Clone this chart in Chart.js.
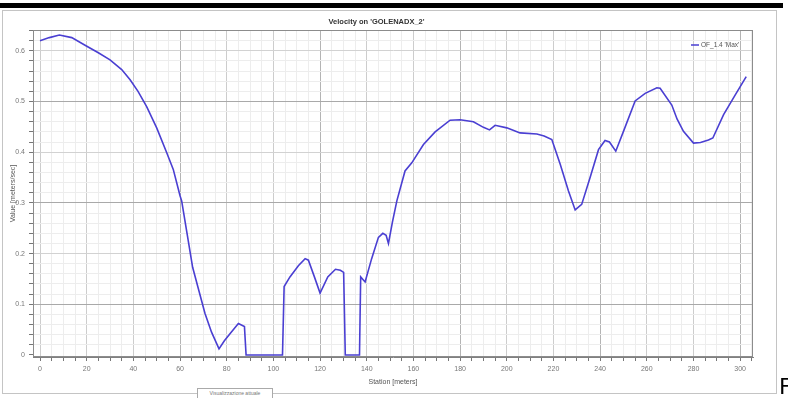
<!DOCTYPE html>
<html>
<head>
<meta charset="utf-8">
<script src="https://cdn.jsdelivr.net/npm/chart.js@4.4.1/dist/chart.umd.min.js"></script>
<style>
  body { margin: 0; background: #fff; width: 788px; height: 398px; overflow: hidden; position: relative; font-family: "Liberation Sans", Arial, sans-serif; }
  #bar { position: absolute; left: 0; top: 3px; width: 783px; height: 5px; background: #000; }
  #panel { position: absolute; left: 2px; top: 10px; width: 773px; height: 382px; border: 1px solid #c4c4c4; background: #fff; }
  #wrap { position: absolute; left: 0; top: 0; width: 788px; height: 398px; }
  #tab { position: absolute; left: 197px; top: 388px; width: 74px; height: 9px; border: 1px solid #aaa; background: #fff;
         font-size: 5px; line-height: 9px; color: #777; text-align: center; }
  #f { position: absolute; left: 779px; top: 374px; font-family: "DejaVu Sans", sans-serif; font-size: 22px; color: #000; line-height: 26px; }
</style>
</head>
<body>
<div id="bar"></div>
<div id="panel"></div>
<div id="wrap"><canvas id="chart" width="788" height="398"></canvas></div>
<div id="tab">Visualizzazione attuale</div>
<div id="f">F</div>
<script>
// station along the section (m)
const stations = [
  0, 4, 8.3, 13.6, 19.3, 25, 30, 35, 38.6, 42, 45.7, 50, 54.3, 57.1, 60, 60.7, 63, 65.4, 68, 70.7,
  73.5, 76.7, 79, 81.4, 85, 87.6, 88.3, 103.9, 104.6, 107.1, 110.7, 113.6, 115, 117.5, 120, 123.3,
  126.6, 128.7, 130.1, 130.8, 136.9, 137.4, 139.3, 142.1, 145, 146.9, 148.3, 149.3, 151, 152.9,
  156.4, 159.3, 164.3, 169.3, 175.7, 180, 185.7, 190, 192.6, 195, 200, 205.7, 212.9, 216, 219.3,
  222.9, 226.4, 229.3, 232.1, 235.7, 239.3, 242.1, 244, 246.7, 250, 255, 259.3, 264.3, 265.7,
  270.7, 273, 275.7, 280, 283, 286.4, 288.3, 292.9, 297.9, 302.6
];
// max velocity (m/s)
const velocity = [
  0.62, 0.626, 0.631, 0.626, 0.611, 0.596, 0.582, 0.563, 0.543, 0.52, 0.49, 0.448, 0.399, 0.366, 0.314, 0.304, 0.24, 0.173, 0.128, 0.082,
  0.045, 0.012, 0.028, 0.042, 0.062, 0.056, 0, 0, 0.135, 0.154, 0.176, 0.19, 0.187, 0.155, 0.122, 0.154,
  0.169, 0.167, 0.163, 0, 0, 0.154, 0.144, 0.19, 0.232, 0.24, 0.236, 0.22, 0.262, 0.304,
  0.363, 0.379, 0.415, 0.44, 0.463, 0.464, 0.46, 0.449, 0.444, 0.453, 0.448, 0.438, 0.436, 0.432, 0.425,
  0.376, 0.324, 0.286, 0.297, 0.35, 0.405, 0.423, 0.42, 0.402, 0.441, 0.501, 0.516, 0.527, 0.526,
  0.493, 0.465, 0.441, 0.418, 0.419, 0.424, 0.428, 0.474, 0.513, 0.549
];
const xLabels = [0, 20, 40, 60, 80, 100, 120, 140, 160, 180, 200, 220, 240, 260, 280, 300];
const yLabels = [0, 0.1, 0.2, 0.3, 0.4, 0.5, 0.6];
const xMinorStep = 5;
const yMinorStep = 0.02;
const seriesName = "OF_1.4 'Max'";
const lineColor = '#4a3fd2';

const isMult = (v, m) => Math.abs(v / m - Math.round(v / m)) < 1e-6;
const isLabel = (list, v) => list.some(l => Math.abs(l - v) < 1e-6);
const minorTicks = (step, hi) => {
  const out = [];
  for (let i = 0; i * step <= hi + 1e-9; i++) out.push({ value: +(i * step).toFixed(4) });
  return out;
};

const extras = {
  id: 'extras',
  afterDraw(chart) {
    const { ctx, chartArea: a } = chart;
    ctx.save();
    ctx.strokeStyle = '#8c8c8c';
    ctx.lineWidth = 1;
    ctx.strokeRect(Math.round(a.left) + 0.5, Math.round(a.top) + 0.5, Math.round(a.width) - 1, Math.round(a.height) - 1);
    // legend
    const ly = a.top + 15;
    ctx.strokeStyle = lineColor;
    ctx.lineWidth = 1.5;
    ctx.beginPath();
    ctx.moveTo(a.right - 62, ly);
    ctx.lineTo(a.right - 54, ly);
    ctx.stroke();
    ctx.fillStyle = '#555';
    ctx.font = '6.5px "Liberation Sans", Arial, sans-serif';
    ctx.textBaseline = 'middle';
    ctx.textAlign = 'left';
    ctx.fillText(seriesName, a.right - 52, ly);
    ctx.restore();
  }
};

const font7 = { family: '"Liberation Sans", Arial, sans-serif', size: 7 };

new Chart(document.getElementById('chart'), {
  type: 'line',
  data: {
    datasets: [{
      label: seriesName,
      data: stations.map((s, i) => ({ x: s, y: velocity[i] })),
      borderColor: lineColor,
      borderWidth: 1.6,
      pointRadius: 0,
      tension: 0,
      fill: false
    }]
  },
  options: {
    responsive: false,
    animation: false,
    devicePixelRatio: 1,
    layout: { padding: { left: 0, right: 35, top: 0, bottom: 0 } },
    plugins: {
      legend: { display: false },
      tooltip: { enabled: false },
      title: {
        display: true,
        text: "Velocity on 'GOLENADX_2'",
        color: '#333',
        font: { family: '"Liberation Sans", Arial, sans-serif', size: 7.5, weight: 'bold', lineHeight: 1.2 },
        padding: { top: 17, bottom: 4 }
      }
    },
    scales: {
      x: {
        type: 'linear',
        min: -3,
        max: 305.5,
        afterFit: s => { s.height = 41; },
        afterBuildTicks: s => { s.ticks = minorTicks(xMinorStep, 305); },
        border: { color: '#808080' },
        grid: {
          color: c => {
            const v = c.tick.value;
            if (isMult(v, 60) && v > 0) return '#b4b4b4';
            if (isLabel(xLabels, v)) return '#cdcdcd';
            return '#ededed';
          },
          tickColor: '#777',
          tickLength: 4
        },
        ticks: {
          autoSkip: false,
          maxRotation: 0,
          padding: 4,
          color: '#777',
          font: font7,
          callback: v => isLabel(xLabels, v) ? String(v) : ''
        },
        title: {
          display: true,
          text: 'Station [meters]',
          color: '#555',
          font: font7,
          padding: { top: 0, bottom: 12 }
        }
      },
      y: {
        type: 'linear',
        min: -0.004,
        max: 0.641,
        afterFit: s => { s.width = 33; },
        afterBuildTicks: s => { s.ticks = minorTicks(yMinorStep, 0.64); },
        border: { color: '#808080' },
        grid: {
          color: c => {
            const v = c.tick.value;
            if (isLabel(yLabels, v)) {
              const k = Math.round(v * 10);
              if (k === 0) return 'rgba(0,0,0,0)';
              return k % 2 === 1 ? '#a9a9a9' : '#d2d2d2';
            }
            return '#ededed';
          },
          tickColor: '#777',
          tickLength: 4
        },
        ticks: {
          autoSkip: false,
          padding: 4,
          color: '#777',
          font: font7,
          callback: v => {
            if (!isLabel(yLabels, v)) return '';
            return v === 0 ? '0' : v.toFixed(1);
          }
        },
        title: {
          display: true,
          text: 'Value [meters/sec]',
          color: '#555',
          font: font7,
          padding: { top: 9, bottom: 0 }
        }
      }
    }
  },
  plugins: [extras]
});
</script>
</body>
</html>
